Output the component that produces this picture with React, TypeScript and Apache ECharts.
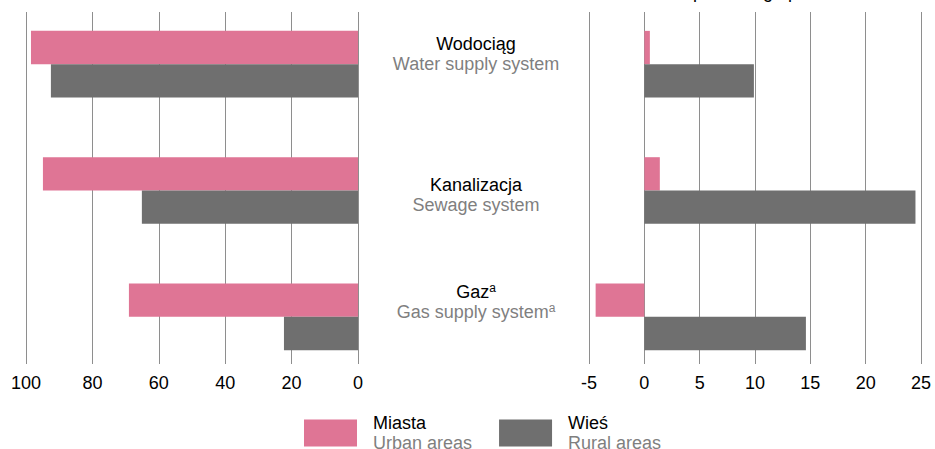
import React, { useEffect, useRef } from 'react';
import * as echarts from 'echarts';

const categoriesPl = ['Wodociąg', 'Kanalizacja', 'Gaz'];
const categoriesEn = ['Water supply system', 'Sewage system', 'Gas supply system'];
const footnotes = ['', '', 'a'];
const seriesNames = ['Miasta', 'Wieś'];
const seriesNamesEn = ['Urban areas', 'Rural areas'];
const urbanLevel = [98.5, 94.9, 69.0];
const ruralLevel = [92.5, 65.1, 22.3];
const urbanChange = [0.5, 1.4, -4.4];
const ruralChange = [9.9, 24.5, 14.6];
const rightUnitNote = 'in percentage points';

const PINK = '#df7595';
const GRAY = '#6f6f6f';
const GRID_LINE = '#8e8e8e';
const FONT = '"Liberation Sans", Arial, sans-serif';
const labelTops = [34, 175, 282];

export default function App() {
  const ref = useRef<HTMLDivElement>(null);
  useEffect(() => {
    if (!ref.current) return;
    const chart = echarts.init(ref.current, null, { renderer: 'svg' });
    const leftX = { left: 26, width: 332 };
    const rightX = { left: 589, width: 332 };
    const barV = { top: 1, height: 379 };
    const lineV = { top: 12, height: 352 };
    const lineAxisCommon = {
      axisLine: { show: false },
      axisTick: { show: false },
      splitLine: { show: true, lineStyle: { color: GRID_LINE, width: 1 } },
      axisLabel: { color: '#000', fontSize: 18, fontFamily: FONT, margin: 10 },
    };
    const enFor = (n: string) => seriesNamesEn[seriesNames.indexOf(n)];
    const option: any = {
      animation: false,
      textStyle: { fontFamily: FONT },
      grid: [
        { ...leftX, ...barV },
        { ...rightX, ...barV },
        { ...leftX, ...lineV },
        { ...rightX, ...lineV },
      ],
      xAxis: [
        { type: 'value', gridIndex: 0, min: 0, max: 100, interval: 20, inverse: true, show: false },
        { type: 'value', gridIndex: 1, min: -5, max: 25, interval: 5, show: false },
        { type: 'value', gridIndex: 2, min: 0, max: 100, interval: 20, inverse: true, ...lineAxisCommon },
        { type: 'value', gridIndex: 3, min: -5, max: 25, interval: 5, ...lineAxisCommon },
      ],
      yAxis: [0, 1, 2, 3].map((g) => ({
        type: 'category',
        gridIndex: g,
        data: categoriesPl,
        inverse: true,
        show: false,
      })),
      legend: {
        data: seriesNames,
        left: 304,
        top: 414,
        padding: 0,
        itemWidth: 53,
        itemHeight: 27,
        itemGap: 27,
        icon: 'rect',
        selectedMode: false,
        formatter: (n: string) => `{a|${n}}\n{b|${enFor(n)}}`,
        textStyle: {
          padding: [0, 0, 0, 11],
          rich: {
            a: { fontSize: 18, lineHeight: 20, color: '#000', fontFamily: FONT },
            b: { fontSize: 18, lineHeight: 20, color: '#7f7f7f', fontFamily: FONT },
          },
        },
      },
      series: [
        { name: seriesNames[0], data: urbanLevel, xAxisIndex: 0, yAxisIndex: 0, color: PINK },
        { name: seriesNames[1], data: ruralLevel, xAxisIndex: 0, yAxisIndex: 0, color: GRAY },
        { name: seriesNames[0], data: urbanChange, xAxisIndex: 1, yAxisIndex: 1, color: PINK },
        { name: seriesNames[1], data: ruralChange, xAxisIndex: 1, yAxisIndex: 1, color: GRAY },
      ].map((s) => ({
        ...s,
        type: 'bar',
        barWidth: 33.3,
        barGap: '0%',
        itemStyle: { color: s.color },
        z: 3,
      })),
      graphic: [
        ...categoriesPl.map((c, i) => ({
          type: 'text',
          x: 476,
          y: labelTops[i],
          style: {
            text: `{a|${c}}{s|${footnotes[i]}}\n{b|${categoriesEn[i]}}{t|${footnotes[i]}}`,
            align: 'center',
            verticalAlign: 'top',
            fontFamily: FONT,
            rich: {
              a: { fontSize: 18, lineHeight: 20, fill: '#000', fontFamily: FONT },
              s: { fontSize: 12, lineHeight: 20, fill: '#000', fontFamily: FONT, verticalAlign: 'top' },
              b: { fontSize: 18, lineHeight: 20, fill: '#7f7f7f', fontFamily: FONT },
              t: { fontSize: 12, lineHeight: 20, fill: '#7f7f7f', fontFamily: FONT, verticalAlign: 'top' },
            },
          },
        })),
        {
          type: 'text',
          x: 755,
          y: 1,
          style: {
            text: rightUnitNote,
            align: 'center',
            verticalAlign: 'bottom',
            fontSize: 18,
            fontFamily: FONT,
            fill: '#000',
          },
        },
      ],
    };
    chart.setOption(option);
    return () => chart.dispose();
  }, []);
  return (
    <div
      ref={ref}
      style={{ position: 'absolute', left: 0, top: 0, width: 935, height: 449, background: '#fff' }}
    />
  );
}
